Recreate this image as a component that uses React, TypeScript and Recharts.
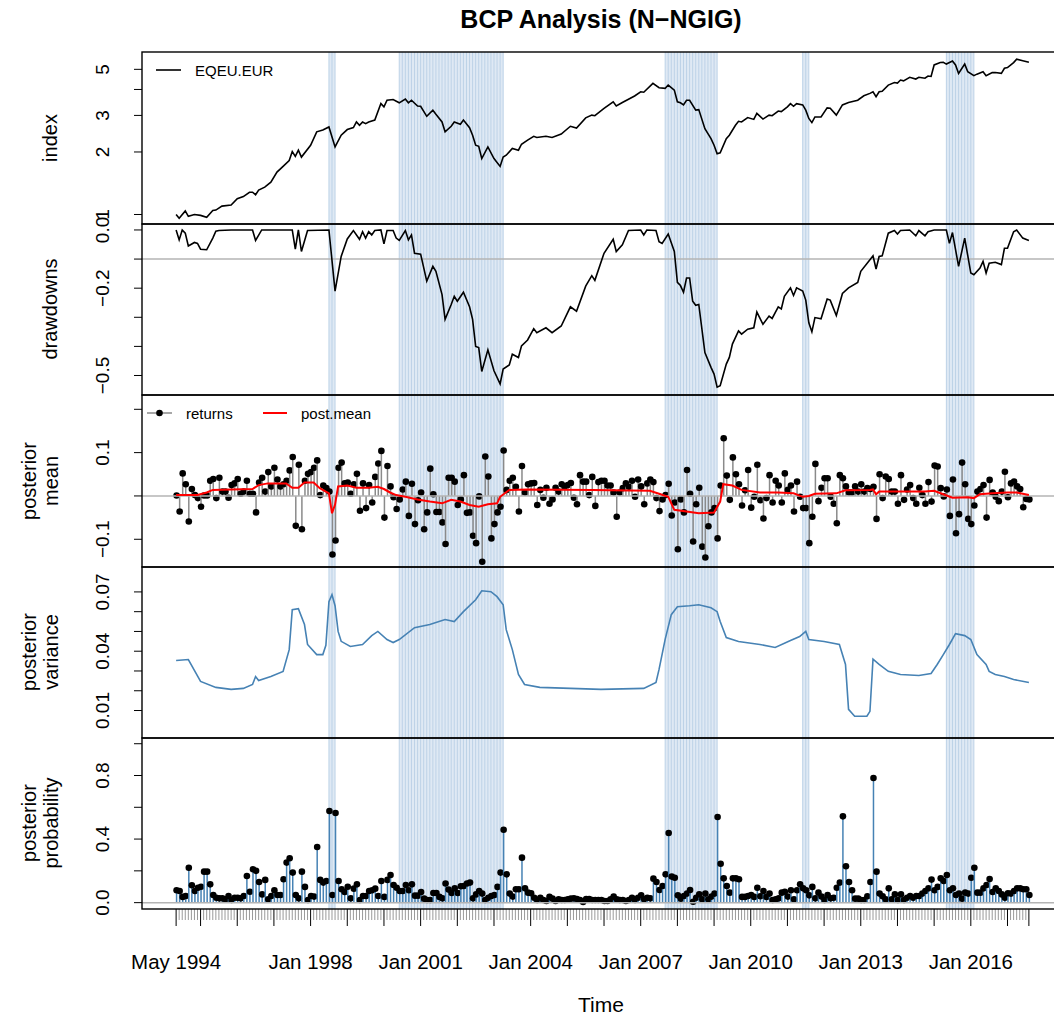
import React from 'react';
import { ComposedChart, Line, Bar, XAxis, YAxis, ReferenceArea, ReferenceLine } from 'recharts';

// monthly observations, month 0 = May 1994, month 279 = Aug 2017
const LAST_MONTH = 279;

// periods flagged as change regions (month index, inclusive)
const shadeRanges: [number, number][] = [[50, 52], [73, 107], [160, 177], [205, 207], [252, 261]];

// [month, value] (log scale)
const indexPts: [number, number][] = [
  [0, 1.0], [1, 0.96], [3, 1.04], [4, 0.98], [6, 1.0], [8, 0.99], [10, 0.97], [12, 1.045], [13, 1.05], [15, 1.097],
  [18, 1.11], [20, 1.19], [22, 1.22], [24, 1.28], [25, 1.28], [26, 1.245], [27, 1.31], [29, 1.355], [31, 1.43], [33, 1.6],
  [35, 1.705], [37, 1.82], [38, 2.01], [39, 1.905], [40, 2.04], [41, 1.89], [44, 2.155], [46, 2.5], [48, 2.55], [50, 2.64],
  [52, 2.115], [54, 2.41], [56, 2.565], [58, 2.62], [59, 2.79], [60, 2.69], [61, 2.79], [62, 2.74], [63, 2.79], [65, 2.85],
  [67, 3.42], [68, 3.3], [69, 3.55], [71, 3.58], [73, 3.45], [75, 3.6], [76, 3.45], [77, 3.55], [79, 3.33], [80, 3.32],
  [82, 2.97], [84, 3.18], [85, 3.04], [87, 2.79], [88, 2.5], [90, 2.66], [91, 2.79], [93, 2.72], [94, 2.85], [96, 2.62],
  [97, 2.41], [98, 2.155], [99, 2.13], [100, 1.86], [102, 2.115], [104, 1.86], [106, 1.705], [107, 1.89], [108, 1.93], [110, 2.08],
  [112, 2.04], [113, 2.18], [115, 2.28], [117, 2.38], [118, 2.35], [121, 2.38], [123, 2.35], [126, 2.44], [129, 2.66], [131, 2.61],
  [134, 2.92], [136, 3.01], [137, 2.99], [140, 3.24], [143, 3.49], [144, 3.33], [146, 3.46], [150, 3.72], [152, 3.9], [153, 3.88],
  [156, 4.28], [158, 4.08], [160, 4.05], [161, 4.2], [163, 3.97], [164, 3.49], [165, 3.45], [166, 3.37], [167, 3.55], [168, 3.55],
  [170, 3.18], [171, 3.2], [173, 2.59], [175, 2.32], [176, 2.155], [177, 1.96], [178, 1.98], [180, 2.32], [181, 2.41], [183, 2.69],
  [184, 2.81], [185, 2.79], [187, 2.93], [189, 2.87], [190, 3.07], [192, 2.88], [194, 3.01], [195, 2.99], [197, 3.15], [198, 3.13],
  [200, 3.3], [201, 3.42], [202, 3.32], [203, 3.42], [205, 3.37], [206, 3.18], [207, 2.9], [208, 2.77], [209, 2.95], [211, 2.95],
  [213, 3.26], [214, 3.25], [216, 3.01], [218, 3.37], [220, 3.46], [223, 3.55], [225, 3.73], [227, 3.83], [228, 3.9], [229, 3.69],
  [230, 3.9], [231, 3.92], [233, 4.2], [235, 4.32], [236, 4.29], [237, 4.44], [238, 4.4], [240, 4.58], [242, 4.49], [243, 4.58],
  [245, 4.53], [246, 4.64], [247, 4.62], [248, 5.25], [250, 5.39], [251, 5.4], [252, 5.3], [254, 5.48], [255, 5.25], [256, 4.78],
  [258, 5.3], [259, 4.87], [261, 4.66], [262, 4.74], [264, 4.87], [265, 4.66], [267, 4.82], [268, 4.83], [270, 4.78], [271, 5.06],
  [272, 5.1], [274, 5.39], [275, 5.6], [277, 5.5], [279, 5.41],
];

const drawdownPts: [number, number][] = [
  [0, 0], [1, -0.034], [2, 0], [3, -0.011], [4, -0.055], [6, -0.043], [7, -0.046], [8, -0.066], [10, -0.068], [12, -0.028],
  [13, -0.004], [14, -0.002], [18, 0], [25, 0], [26, -0.036], [28, 0], [38, 0], [39, -0.066], [40, 0], [41, -0.074],
  [43, -0.002], [50, 0], [52, -0.21], [54, -0.091], [56, -0.031], [58, -0.002], [60, -0.032], [61, -0.006], [62, -0.028], [63, -0.006],
  [64, -0.017], [65, -0.002], [67, 0], [68, -0.048], [69, -0.002], [71, -0.002], [72, -0.028], [73, -0.036], [75, -0.002], [76, -0.034],
  [77, -0.017], [78, -0.08], [80, -0.083], [82, -0.176], [84, -0.125], [85, -0.142], [87, -0.222], [88, -0.307], [90, -0.256], [91, -0.228],
  [92, -0.245], [94, -0.214], [96, -0.264], [97, -0.307], [98, -0.4], [99, -0.404], [100, -0.486], [102, -0.412], [104, -0.484], [106, -0.529],
  [107, -0.478], [109, -0.464], [110, -0.427], [112, -0.438], [113, -0.398], [115, -0.378], [117, -0.339], [118, -0.353], [121, -0.336], [123, -0.353],
  [126, -0.33], [129, -0.264], [131, -0.279], [134, -0.193], [136, -0.157], [137, -0.173], [140, -0.08], [143, -0.032], [144, -0.074], [146, -0.051],
  [148, -0.002], [152, 0], [153, -0.017], [154, 0], [157, -0.002], [158, -0.04], [159, -0.046], [161, -0.014], [163, -0.074], [164, -0.18],
  [165, -0.191], [166, -0.214], [167, -0.165], [168, -0.165], [169, -0.245], [170, -0.259], [171, -0.256], [173, -0.421], [175, -0.472], [176, -0.495],
  [177, -0.54], [178, -0.535], [180, -0.461], [181, -0.438], [182, -0.392], [184, -0.347], [185, -0.358], [187, -0.341], [189, -0.336], [190, -0.282],
  [192, -0.324], [194, -0.296], [195, -0.304], [197, -0.264], [198, -0.271], [199, -0.228], [201, -0.199], [202, -0.225], [203, -0.199], [205, -0.21],
  [206, -0.241], [207, -0.319], [208, -0.35], [209, -0.301], [211, -0.305], [213, -0.237], [214, -0.241], [216, -0.294], [218, -0.218], [220, -0.199],
  [223, -0.18], [224, -0.142], [227, -0.102], [228, -0.089], [229, -0.134], [230, -0.091], [231, -0.089], [233, -0.011], [235, -0.002], [236, -0.014],
  [237, -0.002], [240, 0], [242, -0.02], [243, -0.002], [245, -0.02], [246, -0.006], [248, 0], [252, 0], [253, -0.046], [254, -0.009],
  [256, -0.125], [258, -0.028], [260, -0.148], [261, -0.154], [263, -0.131], [264, -0.108], [265, -0.148], [266, -0.114], [268, -0.111], [270, -0.119],
  [271, -0.063], [272, -0.063], [274, -0.006], [275, 0], [277, -0.028], [279, -0.036],
];

// monthly returns, one per month
const returnsVals: number[] = [
  0.001, -0.036, 0.052, 0.027, -0.059, 0.016, 0.002, -0.005, -0.025, 0.001,
  0.001, 0.035, 0.039, -0.005, 0.042, 0.01, 0.01, -0.004, 0.025, 0.029,
  0.039, 0.005, 0.01, 0.035, 0.005, 0.005, -0.038, 0.031, 0.042, 0.01,
  0.055, 0.022, 0.065, 0.038, 0.022, 0.027, 0.035, 0.059, 0.09, -0.069,
  0.072, -0.077, 0.035, 0.051, 0.055, 0.065, 0.082, 0.002, 0.024, 0.018,
  0.01, -0.135, -0.103, 0.065, 0.077, 0.029, 0.031, 0.005, 0.027, 0.051,
  -0.034, 0.029, -0.028, 0.025, -0.015, 0.044, 0.075, 0.104, -0.05, 0.069,
  0.022, -0.003, -0.03, -0.008, 0.015, 0.033, -0.046, 0.028, -0.065, -0.01,
  0.008, -0.077, -0.038, 0.063, 0.004, -0.037, -0.037, -0.061, -0.111, 0.042,
  0.042, 0.033, -0.021, -0.008, 0.048, -0.039, -0.038, -0.092, -0.109, -0.001,
  -0.152, 0.091, 0.045, -0.098, -0.065, -0.038, -0.025, 0.105, 0.014, 0.035,
  0.042, 0.021, -0.036, 0.069, 0.008, 0.027, 0.029, 0.03, -0.021, 0.014,
  -0.004, 0.019, -0.018, -0.008, 0.019, 0.01, 0.027, 0.022, 0.025, 0.03,
  -0.004, -0.019, 0.048, 0.033, 0.033, 0.002, 0.044, -0.023, 0.032, 0.035,
  0.035, 0.024, 0.024, 0.008, -0.048, 0.008, 0.018, 0.029, 0.021, 0.035,
  -0.002, 0.038, 0.022, -0.019, 0.029, 0.038, 0.032, -0.005, -0.035, -0.008,
  0.002, 0.028, -0.045, -0.015, -0.123, -0.008, -0.038, 0.06, 0.005, -0.105,
  -0.019, 0.019, -0.117, -0.142, -0.07, -0.038, -0.028, -0.098, 0.024, 0.133,
  0.047, -0.009, 0.089, 0.05, 0.027, -0.022, 0.013, 0.06, -0.027, -0.002,
  0.072, -0.01, -0.052, -0.005, 0.048, -0.015, 0.035, 0.024, -0.015, 0.052,
  0.014, 0.024, -0.036, 0.033, -0.002, -0.028, -0.028, -0.109, -0.048, 0.074,
  -0.012, 0.019, 0.041, 0.041, -0.002, -0.018, -0.063, 0.048, 0.041, 0.022,
  0.008, 0.008, 0.022, 0.01, 0.027, 0.01, 0.018, 0.016, 0.021, -0.053,
  0.05, -0.005, 0.045, 0.039, 0.01, 0.01, -0.018, 0.048, -0.009, 0.015,
  0.025, -0.005, -0.018, 0.019, 0.002, -0.018, 0.032, -0.013, 0.07, 0.068,
  0.018, -0.001, 0.015, -0.046, 0.038, -0.086, -0.042, 0.077, 0.027, -0.053,
  -0.065, -0.022, 0.01, 0.016, 0.025, -0.05, 0.037, 0.008, -0.002, -0.012,
  0.01, 0.056, -0.003, 0.029, 0.033, 0.022, 0.016, -0.026, -0.007, -0.008,
];

const postMeanPts: [number, number][] = [
  [0, 0.002], [7, 0.002], [10, 0.008], [12, 0.014], [18, 0.015], [25, 0.016], [27, 0.025], [30, 0.029], [36, 0.029], [38, 0.019],
  [40, 0.019], [42, 0.031], [45, 0.031], [47, 0.018], [50, 0.006], [51, -0.04], [52, -0.02], [53, 0.022], [56, 0.024], [59, 0.019],
  [63, 0.019], [66, 0.021], [68, 0.016], [70, 0.008], [72, 0.002], [75, -0.002], [79, -0.008], [83, -0.013], [87, -0.017], [90, -0.009],
  [93, -0.013], [96, -0.021], [99, -0.025], [102, -0.019], [105, -0.017], [106, -0.002], [109, 0.014], [115, 0.015], [136, 0.014], [155, 0.012],
  [158, 0.005], [161, -0.002], [163, -0.032], [167, -0.036], [171, -0.04], [176, -0.038], [178, -0.013], [179, 0.027], [182, 0.024], [185, 0.014],
  [191, 0.008], [197, 0.008], [202, 0.006], [205, -0.002], [207, 0], [209, 0.005], [216, 0.006], [219, 0.013], [227, 0.014], [228, 0.015],
  [229, 0.004], [230, 0.01], [237, 0.01], [245, 0.01], [248, 0.012], [251, 0.004], [254, -0.004], [259, -0.003], [261, -0.005], [263, 0.004],
  [267, 0.006], [272, 0.008], [275, 0.008], [279, 0.002],
];

const variancePts: [number, number][] = [
  [0, 0.0353], [4, 0.0358], [8, 0.0247], [13, 0.0217], [18, 0.0207], [22, 0.0212], [25, 0.0232], [26, 0.0272], [27, 0.0252], [31, 0.0272],
  [35, 0.0298], [37, 0.0408], [38, 0.061], [40, 0.0615], [42, 0.0535], [43, 0.0434], [46, 0.0383], [48, 0.0383], [49, 0.043], [50, 0.065],
  [51, 0.0686], [52, 0.063], [53, 0.05], [54, 0.045], [57, 0.0424], [61, 0.0434], [64, 0.0479], [66, 0.05], [69, 0.0459], [71, 0.0444],
  [73, 0.0459], [78, 0.0519], [83, 0.0535], [88, 0.056], [91, 0.055], [94, 0.06], [98, 0.066], [100, 0.0706], [103, 0.0701], [105, 0.0676],
  [107, 0.0635], [108, 0.0509], [110, 0.0408], [112, 0.0282], [114, 0.0232], [119, 0.0217], [139, 0.0207], [153, 0.0212], [157, 0.0242], [158, 0.0308],
  [160, 0.046], [162, 0.0585], [164, 0.0625], [168, 0.063], [171, 0.0635], [175, 0.062], [177, 0.06], [178, 0.055], [180, 0.0469], [184, 0.0449],
  [191, 0.0434], [196, 0.0419], [201, 0.0454], [204, 0.0474], [206, 0.05], [207, 0.0459], [212, 0.0449], [217, 0.0434], [219, 0.0333], [220, 0.0106],
  [222, 0.0071], [226, 0.0071], [227, 0.0096], [228, 0.036], [230, 0.0333], [233, 0.0298], [237, 0.0282], [243, 0.0277], [247, 0.0287], [249, 0.0333],
  [251, 0.0383], [253, 0.0434], [255, 0.0489], [258, 0.0479], [260, 0.0459], [262, 0.0383], [265, 0.0333], [266, 0.0298], [268, 0.0282], [271, 0.0272],
  [274, 0.0257], [279, 0.0242],
];

// posterior probability of a change point, one per month
const probVals: number[] = [
  0.078, 0.073, 0.036, 0.042, 0.22, 0.109, 0.073, 0.094, 0.1, 0.195,
  0.195, 0.115, 0.048, 0.031, 0.027, 0.027, 0.021, 0.042, 0.017, 0.031,
  0.031, 0.027, 0.042, 0.168, 0.069, 0.21, 0.2, 0.13, 0.052, 0.143,
  0.021, 0.042, 0.078, 0.048, 0.048, 0.147, 0.252, 0.279, 0.189, 0.048,
  0.027, 0.195, 0.099, 0.017, 0.042, 0.038, 0.35, 0.143, 0.126, 0.136,
  0.577, 0.048, 0.564, 0.136, 0.084, 0.067, 0.1, 0.027, 0.088, 0.115,
  0.017, 0.042, 0.042, 0.073, 0.078, 0.088, 0.042, 0.136, 0.036, 0.143,
  0.174, 0.111, 0.094, 0.073, 0.073, 0.111, 0.078, 0.115, 0.044, 0.044,
  0.067, 0.025, 0.017, 0.017, 0.061, 0.061, 0.036, 0.027, 0.12, 0.082,
  0.061, 0.09, 0.061, 0.103, 0.105, 0.12, 0.126, 0.027, 0.052, 0.073,
  0.057, 0.017, 0.031, 0.042, 0.048, 0.099, 0.189, 0.459, 0.178, 0.057,
  0.038, 0.084, 0.084, 0.283, 0.09, 0.063, 0.059, 0.031, 0.017, 0.031,
  0.017, 0.01, 0.036, 0.025, 0.01, 0.021, 0.017, 0.017, 0.021, 0.025,
  0.027, 0.023, 0.017, 0.004, 0.023, 0.023, 0.017, 0.017, 0.017, 0.017,
  0.01, 0.01, 0.021, 0.038, 0.021, 0.017, 0.017, 0.01, 0.017, 0.031,
  0.017, 0.031, 0.046, 0.021, 0.031, 0.027, 0.151, 0.13, 0.08, 0.105,
  0.178, 0.438, 0.164, 0.157, 0.046, 0.025, 0.042, 0.057, 0.08, 0.006,
  0.031, 0.052, 0.021, 0.057, 0.021, 0.038, 0.057, 0.539, 0.245, 0.153,
  0.105, 0.063, 0.153, 0.153, 0.147, 0.036, 0.036, 0.042, 0.048, 0.036,
  0.094, 0.04, 0.073, 0.036, 0.057, 0.017, 0.021, 0.027, 0.063, 0.069,
  0.038, 0.078, 0.021, 0.078, 0.115, 0.09, 0.078, 0.046, 0.099, 0.027,
  0.063, 0.038, 0.017, 0.048, 0.027, 0.031, 0.094, 0.126, 0.543, 0.229,
  0.13, 0.078, 0.025, 0.025, 0.017, 0.017, 0.04, 0.13, 0.784, 0.195,
  0.057, 0.04, 0.021, 0.09, 0.021, 0.052, 0.017, 0.052, 0.017, 0.031,
  0.042, 0.031, 0.042, 0.042, 0.057, 0.073, 0.09, 0.145, 0.078, 0.099,
  0.153, 0.136, 0.174, 0.078, 0.09, 0.048, 0.057, 0.025, 0.063, 0.057,
  0.157, 0.22, 0.063, 0.063, 0.09, 0.111, 0.149, 0.067, 0.09, 0.073,
  0.052, 0.031, 0.059, 0.057, 0.073, 0.09, 0.09, 0.084, 0.084, 0.048,
];

// x-axis labels
const xTickMonths = [0, 44, 80, 116, 152, 188, 224, 260];
const xTickLabels = ['May 1994', 'Jan 1998', 'Jan 2001', 'Jan 2004', 'Jan 2007', 'Jan 2010', 'Jan 2013', 'Jan 2016'];

// y-axis ticks per panel ('' = tick without label)
const indexTicks = [1, 2, 3, 4, 5];
const indexTickLabels = ['1', '2', '3', '', '5'];
const ddTicks = [0, -0.1, -0.2, -0.3, -0.4, -0.5];
const ddTickLabels = ['0.0', '', '\u22120.2', '', '', '\u22120.5'];
const meanTicks = [-0.1, 0, 0.1, 0.2];
const meanTickLabels = ['\u22120.1', '', '0.1', ''];
const varTicks = [0.01, 0.02, 0.03, 0.04, 0.05, 0.06, 0.07];
const varTickLabels = ['0.01', '', '', '0.04', '', '', '0.07'];
const probTicks = [0, 0.2, 0.4, 0.6, 0.8, 1.0];
const probTickLabels = ['0.0', '', '0.4', '', '0.8', ''];

// layout
const CHART_W = 1063;
const LEFT = 142;
const X_DOMAIN: [number, number] = [-11.16, 290.16];
const TOPS = [52, 224, 395, 567, 738];
const HEIGHTS = [172, 171, 172, 171, 171];
const FONT = '"Liberation Sans", Arial, Helvetica, sans-serif';
const SHADE_FILL = '#dfe9f4';
const SHADE_LINE = '#bdd2e7';
const STEEL = '#4682b4';

const toPts = (arr: [number, number][]) => arr.map(([m, v]) => ({ m, v }));
const allMonths = Array.from({ length: LAST_MONTH + 1 }, (_, i) => i);
const returnsData = returnsVals.map((r, m) => ({ m, r }));
const probData = probVals.map((p, m) => ({ m, p }));

function shades(prefix: string) {
  const out: React.ReactNode[] = [];
  shadeRanges.forEach(([a, b], k) => {
    out.push(
      <ReferenceArea key={`${prefix}-a${k}`} x1={a} x2={b} fill={SHADE_FILL} fillOpacity={1} stroke="none" zIndex={-60} />
    );
    for (let m = a; m <= b; m++) {
      out.push(<ReferenceLine key={`${prefix}-l${m}`} x={m} stroke={SHADE_LINE} strokeWidth={1} zIndex={-50} />);
    }
  });
  return out;
}

function makeYTick(vals: number[], labels: string[]) {
  return (props: any) => {
    const { x, y, payload } = props;
    const idx = vals.findIndex((v) => Math.abs(v - payload.value) < 1e-9);
    const lab = idx >= 0 ? labels[idx] : '';
    const tx = x - 33;
    return (
      <g>
        <line x1={x - 8} x2={x} y1={y} y2={y} stroke="#000" strokeWidth={1} />
        {lab && (
          <text x={tx} y={y} transform={`rotate(-90 ${tx} ${y})`} textAnchor="middle" fontSize={19} fontFamily={FONT} fill="#000">
            {lab}
          </text>
        )}
      </g>
    );
  };
}

function XTick(props: any) {
  const { x, y, payload } = props;
  const m = payload.value;
  const major = m === 0 || m === LAST_MONTH || (m + 4) % 12 === 0;
  const idx = xTickMonths.indexOf(m);
  return (
    <g>
      <line x1={x} x2={x} y1={y} y2={y + (major ? 17 : 11)} stroke={major ? '#000' : '#9a9a9a'} strokeWidth={1} />
      {idx >= 0 && (
        <text x={x} y={y + 60} textAnchor="middle" fontSize={20.5} fontFamily={FONT} fill="#000">
          {xTickLabels[idx]}
        </text>
      )}
    </g>
  );
}

function stemShape(key: string, color: string) {
  return (props: any) => {
    const { x, y, width, height, payload } = props;
    const v = payload[key];
    const cx = x + width / 2;
    const top = Math.min(y, y + height);
    const bot = Math.max(y, y + height);
    const dotY = v >= 0 ? top : bot;
    const baseY = v >= 0 ? bot : top;
    return (
      <g>
        <line x1={cx} x2={cx} y1={baseY} y2={dotY} stroke={color} strokeWidth={1.5} />
        <circle cx={cx} cy={dotY} r={3.3} fill="#000" />
      </g>
    );
  };
}

const margin = { top: 0, right: 0, bottom: 0, left: 0 };

function HiddenX() {
  return <XAxis dataKey="m" type="number" domain={X_DOMAIN} allowDataOverflow hide />;
}

export default function App() {
  return (
    <div style={{ position: 'absolute', left: 0, top: 0, width: 1054, height: 1020, overflow: 'hidden', background: '#fff', fontFamily: FONT }}>
      <style>{'.recharts-surface{overflow:visible}'}</style>
      {/* index */}
      <div style={{ position: 'absolute', left: 0, top: TOPS[0] }}>
        <ComposedChart width={CHART_W} height={HEIGHTS[0]} margin={margin}>
          {HiddenX()}
          <YAxis type="number" scale="log" domain={[0.9, 6.06]} allowDataOverflow width={LEFT} ticks={indexTicks} interval={0}
            axisLine={false} tickLine={false} tickSize={0} tickMargin={0} tick={makeYTick(indexTicks, indexTickLabels)} />
          {shades('i')}
          <Line data={toPts(indexPts)} dataKey="v" type="linear" stroke="#000" strokeWidth={1.6} dot={false} isAnimationActive={false} />
        </ComposedChart>
      </div>

      {/* drawdowns */}
      <div style={{ position: 'absolute', left: 0, top: TOPS[1] }}>
        <ComposedChart width={CHART_W} height={HEIGHTS[1]} margin={margin}>
          {HiddenX()}
          <YAxis type="number" domain={[-0.567, 0.0205]} allowDataOverflow width={LEFT} ticks={ddTicks} interval={0}
            axisLine={false} tickLine={false} tickSize={0} tickMargin={0} tick={makeYTick(ddTicks, ddTickLabels)} />
          {shades('d')}
          <ReferenceLine y={-0.1} stroke="#b4b4b4" strokeWidth={1.5} />
          <Line data={toPts(drawdownPts)} dataKey="v" type="linear" stroke="#000" strokeWidth={1.6} dot={false} isAnimationActive={false} />
        </ComposedChart>
      </div>

      {/* posterior mean */}
      <div style={{ position: 'absolute', left: 0, top: TOPS[2] }}>
        <ComposedChart width={CHART_W} height={HEIGHTS[2]} margin={margin} data={returnsData}>
          <XAxis dataKey="m" type="number" domain={X_DOMAIN} allowDataOverflow hide ticks={allMonths} />
          <YAxis type="number" domain={[-0.164, 0.233]} allowDataOverflow width={LEFT} ticks={meanTicks} interval={0}
            axisLine={false} tickLine={false} tickSize={0} tickMargin={0} tick={makeYTick(meanTicks, meanTickLabels)} />
          {shades('r')}
          <ReferenceLine y={0} stroke="#b4b4b4" strokeWidth={1.5} />
          <Bar dataKey="r" barSize={2} isAnimationActive={false} shape={stemShape('r', '#8a8a8a')} />
          <Line data={toPts(postMeanPts)} dataKey="v" type="linear" stroke="#ff0000" strokeWidth={2} dot={false} isAnimationActive={false} />
        </ComposedChart>
      </div>

      {/* posterior variance */}
      <div style={{ position: 'absolute', left: 0, top: TOPS[3] }}>
        <ComposedChart width={CHART_W} height={HEIGHTS[3]} margin={margin}>
          {HiddenX()}
          <YAxis type="number" domain={[-0.0039, 0.0826]} allowDataOverflow width={LEFT} ticks={varTicks} interval={0}
            axisLine={false} tickLine={false} tickSize={0} tickMargin={0} tick={makeYTick(varTicks, varTickLabels)} />
          {shades('v')}
          <Line data={toPts(variancePts)} dataKey="v" type="linear" stroke={STEEL} strokeWidth={1.6} dot={false} isAnimationActive={false} />
        </ComposedChart>
      </div>

      {/* posterior probability + time axis */}
      <div style={{ position: 'absolute', left: 0, top: TOPS[4] }}>
        <ComposedChart width={CHART_W} height={HEIGHTS[4] + 70} margin={margin} data={probData}>
          <XAxis dataKey="m" type="number" domain={X_DOMAIN} allowDataOverflow height={70} ticks={allMonths} interval={0}
            axisLine={false} tickLine={false} tickSize={0} tickMargin={0} tick={XTick} />
          <YAxis type="number" domain={[-0.04, 1.036]} allowDataOverflow width={LEFT} ticks={probTicks} interval={0}
            axisLine={false} tickLine={false} tickSize={0} tickMargin={0} tick={makeYTick(probTicks, probTickLabels)} />
          {shades('p')}
          <ReferenceLine y={0} stroke="#b4b4b4" strokeWidth={1.5} />
          <Bar dataKey="p" barSize={2} isAnimationActive={false} shape={stemShape('p', STEEL)} />
        </ComposedChart>
      </div>

      {/* frames, titles, legends */}
      <svg width={1054} height={1020} style={{ position: 'absolute', left: 0, top: 0, pointerEvents: 'none' }} fontFamily={FONT}>
        {TOPS.map((t, k) => (
          <rect key={k} x={LEFT} y={t} width={CHART_W - LEFT} height={HEIGHTS[k]} fill="none" stroke="#000" strokeWidth={1.4} />
        ))}
        <text x={601} y={28} textAnchor="middle" fontSize={25} fontWeight="bold">BCP Analysis (N{'\u2212'}NGIG)</text>
        <text x={601} y={1012} textAnchor="middle" fontSize={21}>Time</text>

        <text x={57} y={138} transform="rotate(-90 57 138)" textAnchor="middle" fontSize={20}>index</text>
        <text x={57} y={309} transform="rotate(-90 57 309)" textAnchor="middle" fontSize={20}>drawdowns</text>
        <text x={36} y={481} transform="rotate(-90 36 481)" textAnchor="middle" fontSize={20}>posterior</text>
        <text x={58} y={481} transform="rotate(-90 58 481)" textAnchor="middle" fontSize={20}>mean</text>
        <text x={36} y={652} transform="rotate(-90 36 652)" textAnchor="middle" fontSize={20}>posterior</text>
        <text x={58} y={652} transform="rotate(-90 58 652)" textAnchor="middle" fontSize={20}>variance</text>
        <text x={36} y={823} transform="rotate(-90 36 823)" textAnchor="middle" fontSize={20}>posterior</text>
        <text x={58} y={823} transform="rotate(-90 58 823)" textAnchor="middle" fontSize={20}>probability</text>

        <line x1={156} x2={181} y1={70} y2={70} stroke="#000" strokeWidth={1.6} />
        <text x={195} y={75.5} fontSize={15}>EQEU.EUR</text>

        <line x1={147} x2={172} y1={413} y2={413} stroke="#8a8a8a" strokeWidth={1.5} />
        <circle cx={159.5} cy={413} r={3.3} fill="#000" />
        <text x={186} y={418.5} fontSize={15}>returns</text>
        <line x1={263} x2={287} y1={413} y2={413} stroke="#ff0000" strokeWidth={2} />
        <text x={301} y={418.5} fontSize={15}>post.mean</text>
      </svg>
    </div>
  );
}
